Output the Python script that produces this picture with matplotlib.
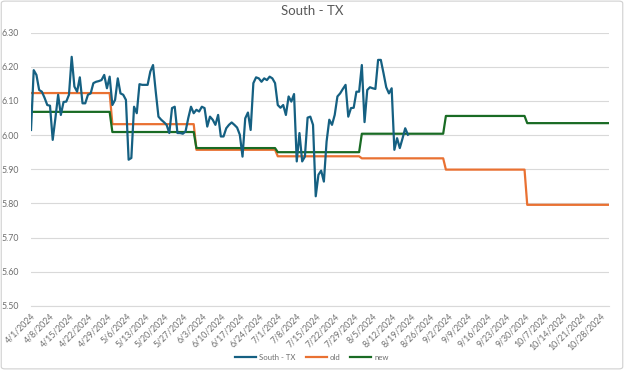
import matplotlib
matplotlib.use("Agg")
import matplotlib.pyplot as plt
from matplotlib.patches import FancyBboxPatch
import numpy as np
import pandas as pd

# ---------------- data ----------------
start_date = "2024-04-01"
end_date = "2024-10-31"

south_tx = [
    6.015, 6.190, 6.176, 6.132, 6.127, 6.109, 6.088, 6.086, 5.986, 6.050,
    6.118, 6.059, 6.097, 6.098, 6.118, 6.229, 6.142, 6.127, 6.169, 6.093,
    6.093, 6.118, 6.122, 6.152, 6.156, 6.158, 6.161, 6.176, 6.137, 6.171,
    6.088, 6.103, 6.166, 6.122, 6.118, 6.103, 5.928, 5.933, 6.083, 6.064,
    6.149, 6.147, 6.147, 6.147, 6.186, 6.205, 6.127, 6.054, 6.045, 6.038,
    6.030, 6.006, 6.079, 6.083, 6.006, 6.006, 6.004, 6.011, 6.050, 6.083,
    6.064, 6.074, 6.069, 6.083, 6.079, 6.025, 6.054, 6.045, 6.030, 6.059,
    5.996, 5.996, 6.020, 6.030, 6.037, 6.030, 6.022, 6.001, 5.937, 6.049,
    6.066, 6.015, 6.152, 6.169, 6.166, 6.156, 6.166, 6.161, 6.171, 6.166,
    6.152, 6.088, 6.080, 6.088, 6.059, 6.113, 6.098, 6.120, 5.923, 6.006,
    5.923, 5.937, 6.051, 6.054, 6.030, 5.821, 5.884, 5.896, 5.864, 5.981,
    6.045, 6.030, 6.059, 6.113, 6.122, 6.135, 6.147, 6.054, 6.079, 6.080,
    6.127, 6.127, 6.205, 6.038, 6.132, 6.140, 6.137, 6.135, 6.220, 6.220,
    6.181, 6.140, 6.122, 6.137, 5.957, 5.991, 5.962, 5.990, 6.020, 6.001,
]

# monthly levels of the "old" and "new" series (first day of each level)
level_starts = ["2024-04-01", "2024-05-01", "2024-06-01", "2024-07-01",
                "2024-08-01", "2024-09-01", "2024-10-01"]
old_levels = [6.123, 6.032, 5.957, 5.938, 5.932, 5.899, 5.796]
new_levels = [6.068, 6.009, 5.962, 5.950, 6.004, 6.056, 6.035]

y_ticks = [5.50, 5.60, 5.70, 5.80, 5.90, 6.00, 6.10, 6.20, 6.30]

# ---------------- build ----------------
plt.rcParams["font.family"] = ["Lato", "DejaVu Sans"]

days = pd.date_range(start_date, end_date, freq="D")
south_dates = days[:len(south_tx)]
starts = pd.to_datetime(level_starts)
idx = np.searchsorted(starts.values, days.values, side="right") - 1
old_series = np.array(old_levels)[idx]
new_series = np.array(new_levels)[idx]

C_BLUE = "#156082"
C_ORANGE = "#E97132"
C_GREEN = "#196B24"
C_TEXT = "#595959"
C_TICK = "#6E6E6E"
C_GRID = "#D9D9D9"

fig = plt.figure(figsize=(6.24, 3.70), dpi=100)
fig.patch.set_facecolor("white")
border = FancyBboxPatch((0.002, 0.003), 0.996, 0.994,
                        boxstyle="round,pad=0,rounding_size=0.006",
                        transform=fig.transFigure, fill=False,
                        edgecolor="#D0D0D0", linewidth=0.8)
fig.patches.append(border)

ax = fig.add_axes([0.0497, 0.173, 0.9256, 0.739])

ax.plot(south_dates, south_tx, color=C_BLUE, lw=1.6, label="South - TX",
        solid_joinstyle="round", zorder=3)
ax.plot(days, old_series, color=C_ORANGE, lw=1.6, label="old", zorder=2)
ax.plot(days, new_series, color=C_GREEN, lw=1.6, label="new", zorder=2)

ax.set_xlim(days[0], days[-1])
ax.set_ylim(5.50, 6.30)
ax.set_yticks(y_ticks)
ax.set_yticklabels([f"{v:.2f}" for v in y_ticks])
ax.grid(axis="y", color=C_GRID, lw=0.8)
ax.set_axisbelow(True)
for s in ["left", "right", "top"]:
    ax.spines[s].set_visible(False)
ax.spines["bottom"].set_color(C_GRID)
ax.spines["bottom"].set_linewidth(0.8)

xticks = pd.date_range("2024-04-01", "2024-10-28", freq="7D")
ax.set_xticks(xticks)
ax.set_xticklabels([f"{d.month}/{d.day}/{d.year}" for d in xticks],
                   rotation=45, ha="right", rotation_mode="anchor")
ax.tick_params(axis="x", length=0, pad=4, labelsize=6.3, labelcolor=C_TICK)
ax.tick_params(axis="y", length=0, pad=9, labelsize=6.3, labelcolor=C_TICK)

fig.text(0.5, 0.97, "South - TX", ha="center", va="center",
         fontsize=9.5, color=C_TEXT)

leg = fig.legend(loc="center", bbox_to_anchor=(0.5, 0.035), ncol=3,
                 frameon=False, fontsize=5.6, handlelength=2.7,
                 columnspacing=1.3, handletextpad=0.35)
for t in leg.get_texts():
    t.set_color(C_TICK)

fig.savefig("out.png", dpi=100, facecolor="white")
